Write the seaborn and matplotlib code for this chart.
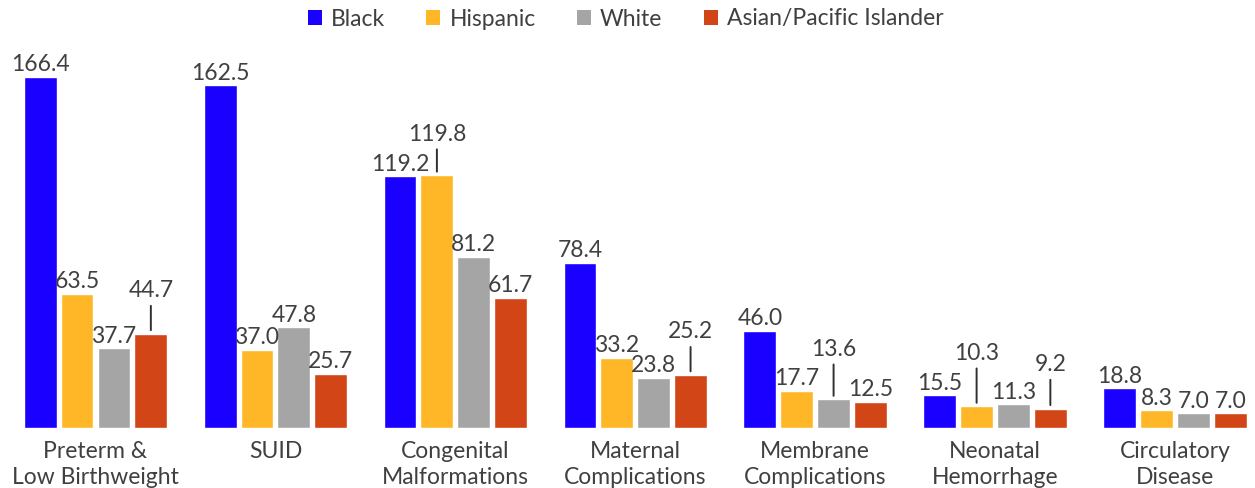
import matplotlib
matplotlib.use("Agg")
import matplotlib.pyplot as plt
from matplotlib.patches import Patch
import seaborn as sns
import pandas as pd

causes = [
    "Preterm &\nLow Birthweight",
    "SUID",
    "Congenital\nMalformations",
    "Maternal\nComplications",
    "Membrane\nComplications",
    "Neonatal\nHemorrhage",
    "Circulatory\nDisease",
]
groups = ["Black", "Hispanic", "White", "Asian/Pacific Islander"]

black = [166.4, 162.5, 119.2, 78.4, 46.0, 15.5, 18.8]
hispanic = [63.5, 37.0, 119.8, 33.2, 17.7, 10.3, 8.3]
white = [37.7, 47.8, 81.2, 23.8, 13.6, 11.3, 7.0]
asian_pi = [44.7, 25.7, 61.7, 25.2, 12.5, 9.2, 7.0]

colors = ["#1A00FF", "#FFB728", "#A5A5A5", "#D24516"]
text_color = "#404040"

# labels lifted above their bar with a leader line: (cause index, group index) -> pixels
lifted = {(0, 3): 43, (2, 1): 41, (3, 3): 43, (4, 2): 50, (5, 1): 53, (5, 3): 44}

rows = []
for g, vals in zip(groups, [black, hispanic, white, asian_pi]):
    for c, v in zip(causes, vals):
        rows.append({"cause": c, "group": g, "rate": v})
df = pd.DataFrame(rows)

sns.set_theme(style="white")
plt.rcParams["font.family"] = ["Lato", "DejaVu Sans"]

fig = plt.figure(figsize=(12.55, 4.88), dpi=100)
ax = fig.add_axes([0, 60 / 488, 1, 428 / 488])

sns.barplot(
    data=df, x="cause", y="rate", hue="group", order=causes, hue_order=groups,
    palette=colors, width=0.82, gap=0.11, saturation=1, legend=False, ax=ax,
)

ax.set_xlim(-0.531, 6.445)
ax.set_ylim(0, 202.8)
ax.set_xlabel("")
ax.set_ylabel("")
ax.set_yticks([])
sns.despine(ax=ax, left=True, top=True, right=True, bottom=True)
ax.tick_params(axis="x", length=0, pad=9, labelsize=16.5, labelcolor=text_color)
for lbl in ax.get_xticklabels():
    lbl.set_linespacing(1.3)

for gi, cont in enumerate(ax.containers):
    for ci, bar in enumerate(cont):
        x = bar.get_x() + bar.get_width() / 2
        top = bar.get_height()
        label = f"{top:.1f}"
        if (ci, gi) in lifted:
            ax.annotate(
                label, xy=(x, top), xytext=(0, lifted[(ci, gi)]),
                textcoords="offset pixels", ha="center", va="center",
                fontsize=16.5, color=text_color,
                arrowprops=dict(arrowstyle="-", color="#303030", lw=1.4,
                                shrinkA=1, shrinkB=2.5),
            )
        else:
            ax.annotate(
                label, xy=(x, top), xytext=(0, 12),
                textcoords="offset pixels", ha="center", va="center",
                fontsize=16.5, color=text_color,
            )

handles = [Patch(facecolor=c, edgecolor="none") for c in colors]
fig.legend(
    handles, groups, loc="center", bbox_to_anchor=(0.4985, 1 - 19 / 488),
    ncol=4, frameon=False, fontsize=16.5, labelcolor=text_color,
    handlelength=0.61, handleheight=0.61, handletextpad=0.4, columnspacing=1.8,
    borderpad=0,
)

fig.savefig("out.png", dpi=100)
